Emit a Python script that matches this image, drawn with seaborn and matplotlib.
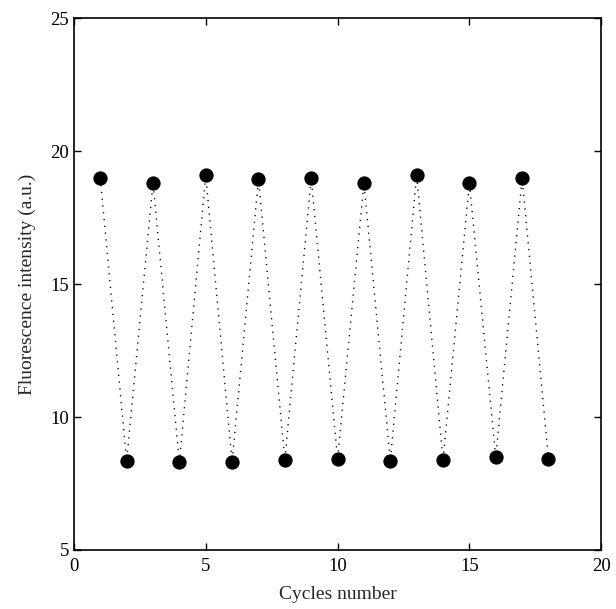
import matplotlib
matplotlib.use("Agg")
import matplotlib.pyplot as plt
import pandas as pd
import seaborn as sns

# Data
cycles = list(range(1, 19))
intensity = [18.98, 8.35, 18.81, 8.29, 19.09, 8.30, 18.95, 8.39, 18.98,
             8.42, 18.81, 8.35, 19.10, 8.38, 18.81, 8.48, 18.98, 8.41]
x_ticks = [0, 5, 10, 15, 20]
y_ticks = [5, 10, 15, 20, 25]

df = pd.DataFrame({"cycle": cycles, "intensity": intensity})

sns.set_style("ticks")
plt.rcParams["font.family"] = ["Liberation Serif", "DejaVu Serif"]

fig = plt.figure(figsize=(6.16, 6.09), dpi=100)
ax = fig.add_axes([0.120, 0.097, 0.856, 0.873])

sns.lineplot(data=df, x="cycle", y="intensity", ax=ax, color="black",
             linestyle=(0, (0.9, 4.0)), linewidth=1.0, marker="o",
             markersize=9.5, markeredgecolor="black",
             markerfacecolor="black")

ax.set_xlim(0, 20)
ax.set_ylim(5, 25)
ax.set_xticks(x_ticks)
ax.set_yticks(y_ticks)
ax.tick_params(direction="in", length=5, width=1, labelsize=13.5,
               top=True, right=True, colors="black")
ax.tick_params(axis="x", pad=6)
for s in ax.spines.values():
    s.set_linewidth(1.2)
    s.set_color("black")

ax.set_xlabel("Cycles number", fontsize=14, labelpad=8)
ax.set_ylabel("Fluorescence intensity (a.u.)", fontsize=14, labelpad=10)

fig.savefig("out.png", dpi=100)
